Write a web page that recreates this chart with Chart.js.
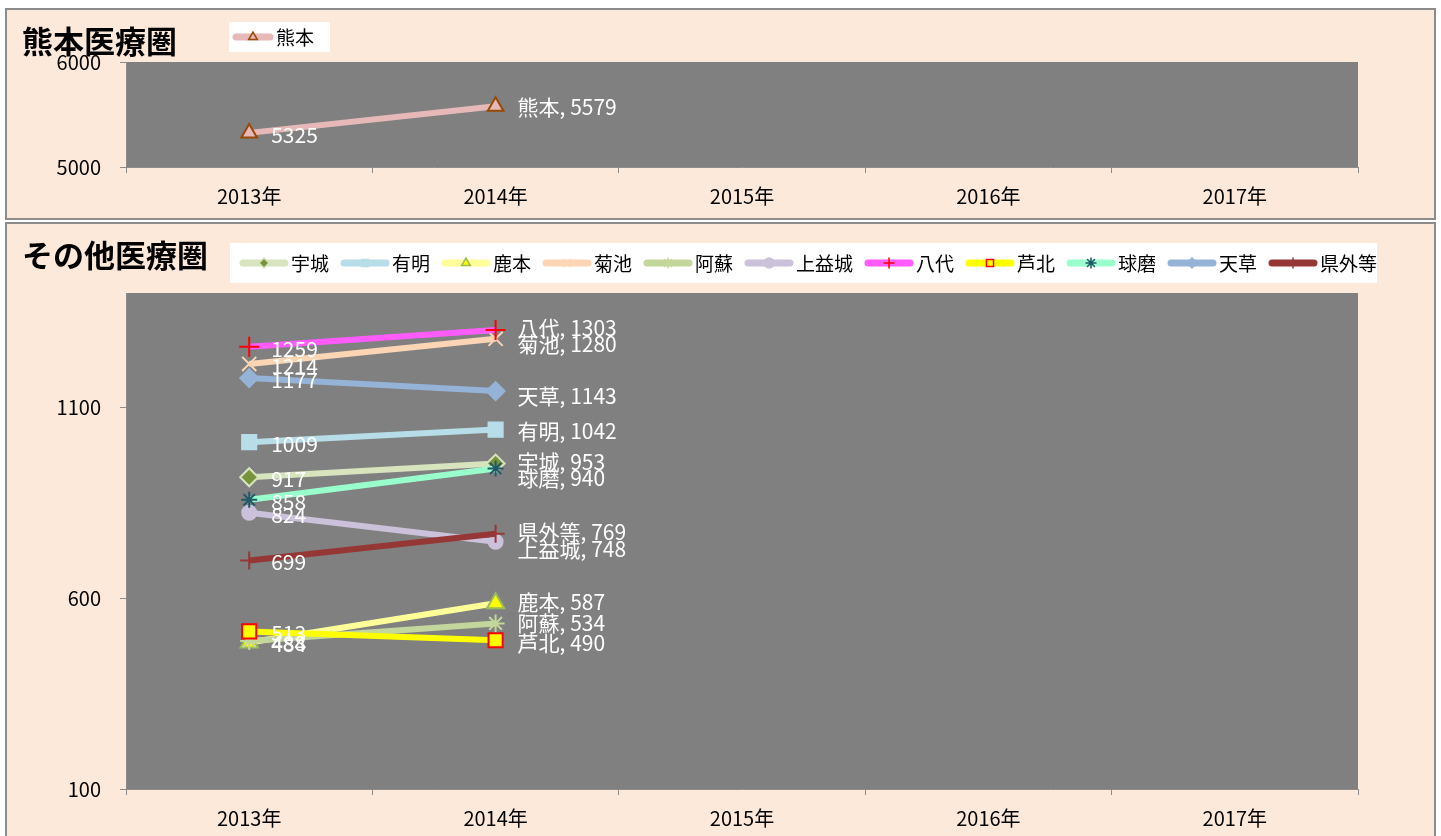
<!DOCTYPE html>
<html>
<head>
<meta charset="utf-8">
<script src="https://cdn.jsdelivr.net/npm/chart.js"></script>
<style>
  body { margin: 0; background: #ffffff; width: 1441px; height: 836px; overflow: hidden; position: relative; font-family: "Noto Sans CJK JP", sans-serif; }
  .panel { position: absolute; left: 5px; width: 1427px; background: #fde9d9; border: 2px solid #8c8c8c; }
  .panel canvas { position: absolute; left: 0; top: 0; }
  .title { position: absolute; left: 15px; font-size: 31px; font-weight: 700; line-height: 1; color: #000; white-space: nowrap; }
</style>
</head>
<body>
<div class="panel" style="top:8px;height:208px;">
  <canvas id="chartTop" width="1427" height="208"></canvas>
  <div class="title" style="top:14px;">熊本医療圏</div>
</div>
<div class="panel" style="top:222px;height:616px;">
  <canvas id="chartBottom" width="1427" height="616"></canvas>
  <div class="title" style="top:14px;">その他医療圏</div>
</div>
<script>
// 年度
const years = ["2013年", "2014年", "2015年", "2016年", "2017年"];

// 熊本医療圏
const kumamoto = [5325, 5579, null, null, null];
const topTicks = [5000, 6000];
const topRange = [5000, 6000];

// その他医療圏
const regionNames = ["宇城", "有明", "鹿本", "菊池", "阿蘇", "上益城", "八代", "芦北", "球磨", "天草", "県外等"];
const uki = [917, 953, null, null, null];
const ariake = [1009, 1042, null, null, null];
const kamoto = [484, 587, null, null, null];
const kikuchi = [1214, 1280, null, null, null];
const aso = [488, 534, null, null, null];
const kamimashiki = [824, 748, null, null, null];
const yatsushiro = [1259, 1303, null, null, null];
const ashikita = [513, 490, null, null, null];
const kuma = [858, 940, null, null, null];
const amakusa = [1177, 1143, null, null, null];
const kengai = [699, 769, null, null, null];
const bottomTicks = [100, 600, 1100];
const bottomRange = [100, 1400];

const FONT = '"Noto Sans CJK JP", "Noto Sans", sans-serif';

// 系列の見た目 (dy = 最後のラベルの上下ずらし)
const styles = [
    { line: "#d7e4bd", fill: "#77933c", border: "#d7e4bd", shape: "rectRot", r: 9, dy: -2 },
    { line: "#b7dee8", fill: "#b7dee8", border: "#b7dee8", shape: "rect", r: 10, dy: 1 },
    { line: "#ffff99", fill: "#ffff00", border: "#9bbb59", shape: "triangle", r: 10, dy: -1 },
    { line: "#fcd5b5", fill: "#fcd5b5", border: "#fcd5b5", shape: "crossRot", r: 10, dy: 5 },
    { line: "#c3d69b", fill: "#c3d69b", border: "#c3d69b", shape: "star", r: 9, dy: 0 },
    { line: "#ccc1da", fill: "#ccc1da", border: "#ccc1da", shape: "circle", r: 7, dy: 7 },
    { line: "#ff5bff", fill: "#ff0000", border: "#ff0000", shape: "cross", r: 10, dy: -2 },
    { line: "#ffff00", fill: "#ffff00", border: "#ff0000", shape: "rect", r: 10, dy: 3 },
    { line: "#99ffcc", fill: "#215968", border: "#215968", shape: "star", r: 8, dy: 10 },
    { line: "#95b3d7", fill: "#95b3d7", border: "#95b3d7", shape: "rectRot", r: 9, dy: 5 },
    { line: "#953735", fill: "#953735", border: "#953735", shape: "cross", r: 9, dy: -2 }
];

function makeDataset(label, data, s, width, order) {
    return {
        label: label,
        data: data,
        borderColor: s.line,
        borderWidth: width,
        backgroundColor: s.line,
        pointStyle: s.shape,
        pointRadius: s.r,
        pointBackgroundColor: s.fill,
        pointBorderColor: s.border,
        pointBorderWidth: 2,
        tension: 0,
        spanGaps: false,
        order: order,
        _style: s
    };
}

const plotBg = {
    id: "plotBg",
    beforeDraw(chart) {
        const a = chart.chartArea;
        const ctx = chart.ctx;
        ctx.save();
        ctx.fillStyle = "#808080";
        ctx.fillRect(a.left, a.top, a.right - a.left, a.bottom - a.top);
        ctx.restore();
    }
};

const dataLabels = {
    id: "dataLabels",
    afterDatasetsDraw(chart) {
        const ctx = chart.ctx;
        ctx.save();
        ctx.font = "21px " + FONT;
        ctx.fillStyle = "#ffffff";
        ctx.textAlign = "left";
        ctx.textBaseline = "middle";
        chart.data.datasets.forEach((ds, i) => {
            const meta = chart.getDatasetMeta(i);
            let last = -1;
            ds.data.forEach((v, j) => { if (v != null) last = j; });
            meta.data.forEach((pt, j) => {
                const v = ds.data[j];
                if (v == null) return;
                if (j === last) {
                    ctx.fillText(ds.label + ", " + v, pt.x + 22, pt.y + (ds._style.dy || 0));
                } else {
                    ctx.fillText(String(v), pt.x + 22, pt.y + 2);
                }
            });
        });
        ctx.restore();
    }
};

const excelLegend = {
    id: "excelLegend",
    afterDraw(chart, args, opts) {
        const ctx = chart.ctx;
        ctx.save();
        ctx.fillStyle = "#ffffff";
        ctx.fillRect(opts.box[0], opts.box[1], opts.box[2], opts.box[3]);
        ctx.font = "19px " + FONT;
        ctx.textBaseline = "middle";
        let x = opts.start;
        const y = opts.box[1] + opts.box[3] / 2;
        chart.data.datasets.forEach((ds) => {
            const s = ds._style;
            ctx.strokeStyle = s.line;
            ctx.lineWidth = 7;
            ctx.lineCap = "round";
            ctx.beginPath();
            ctx.moveTo(x + 3, y);
            ctx.lineTo(x + opts.lineLen - 3, y);
            ctx.stroke();
            ctx.fillStyle = s.fill;
            ctx.strokeStyle = s.border;
            ctx.lineWidth = 1.5;
            if (Chart.helpers && Chart.helpers.drawPoint) {
                Chart.helpers.drawPoint(ctx, { pointStyle: s.shape, radius: opts.markerR, rotation: 0, borderWidth: 1.5 }, x + opts.lineLen / 2, y);
            }
            ctx.fillStyle = "#000000";
            ctx.fillText(ds.label, x + opts.lineLen + 3, y + 1);
            x += opts.lineLen + 3 + ctx.measureText(ds.label).width + 12;
        });
        ctx.restore();
    }
};

function axisOptions(ticks, range, plotBottom, canvasH) {
    return {
        x: {
            offset: true,
            grid: { offset: true, drawOnChartArea: false, drawTicks: true, tickLength: 6, color: "#8c8c8c" },
            border: { color: "#8c8c8c", width: 1 },
            ticks: { color: "#000000", font: { family: FONT, size: 20 }, padding: 11, maxRotation: 0 },
            afterFit: (s) => { s.height = canvasH - plotBottom; }
        },
        y: {
            min: range[0],
            max: range[1],
            grid: { drawOnChartArea: false, drawTicks: true, tickLength: 6, color: "#8c8c8c" },
            border: { color: "#8c8c8c", width: 1 },
            ticks: { color: "#000000", font: { family: FONT, size: 20 }, padding: 19, callback: (v) => String(v) },
            afterBuildTicks: (s) => { s.ticks = ticks.map((v) => ({ value: v })); },
            afterFit: (s) => { s.width = 119; }
        }
    };
}

function baseOptions(ticks, range, topPad, plotBottom, canvasH, legendOpts) {
    return {
        responsive: false,
        animation: false,
        events: [],
        layout: { padding: { left: 0, right: 76, top: topPad, bottom: 0 } },
        plugins: {
            legend: { display: false },
            tooltip: { enabled: false },
            excelLegend: legendOpts
        },
        scales: axisOptions(ticks, range, plotBottom, canvasH)
    };
}

// 熊本医療圏
new Chart(document.getElementById("chartTop").getContext("2d"), {
    type: "line",
    data: {
        labels: years,
        datasets: [makeDataset("熊本", kumamoto,
            { line: "#e6b9b8", fill: "#e6b9b8", border: "#984807", shape: "triangle", r: 9, dy: 1 }, 6, 1)]
    },
    options: baseOptions(topTicks, topRange, 52, 157, 208,
        { box: [222, 12, 101, 30], start: 226, lineLen: 40, markerR: 5 }),
    plugins: [plotBg, dataLabels, excelLegend]
});

// その他医療圏
const regionData = [uki, ariake, kamoto, kikuchi, aso, kamimashiki, yatsushiro, ashikita, kuma, amakusa, kengai];
new Chart(document.getElementById("chartBottom").getContext("2d"), {
    type: "line",
    data: {
        labels: years,
        datasets: regionNames.map((name, i) =>
            makeDataset(name, regionData[i], styles[i], 6, regionNames.length - i))
    },
    options: baseOptions(bottomTicks, bottomRange, 69, 565, 616,
        { box: [223, 19, 1147, 40], start: 233, lineLen: 48, markerR: 5 }),
    plugins: [plotBg, dataLabels, excelLegend]
});
</script>
</body>
</html>
